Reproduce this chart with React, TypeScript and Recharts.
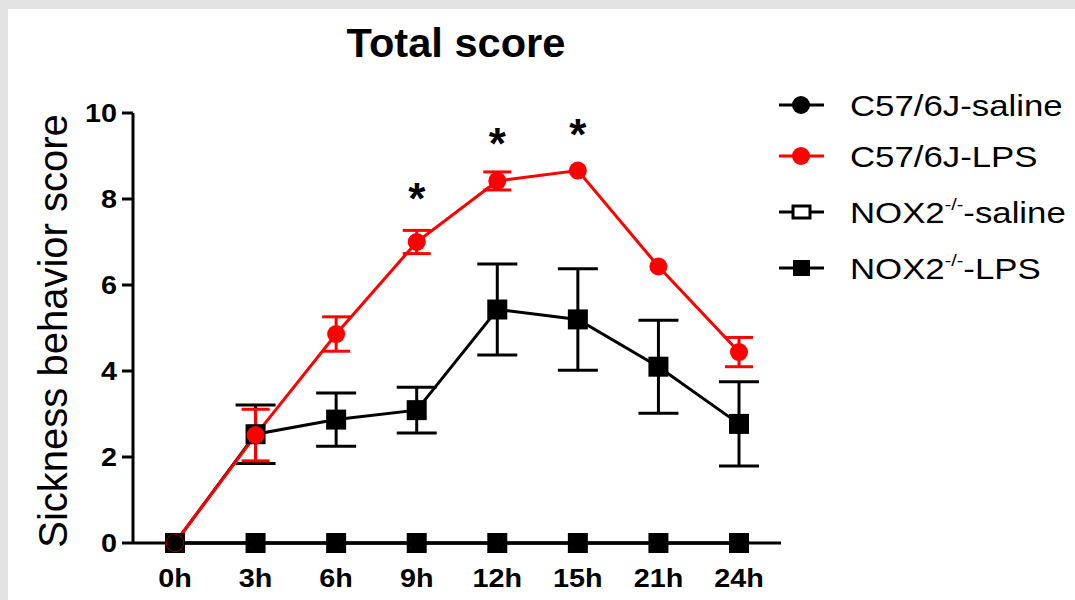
import React from 'react';
import { ComposedChart, Line, XAxis, YAxis, ErrorBar } from 'recharts';

const times = ['0h', '3h', '6h', '9h', '12h', '15h', '21h', '24h'];
const c57Saline = [0, 0, 0, 0, 0, 0, 0, 0];
const c57Lps = [0, 2.51, 4.86, 7.0, 8.42, 8.66, 6.43, 4.44];
const c57LpsErr = [0, 0.6, 0.4, 0.27, 0.21, 0, 0, 0.34];
const nox2Saline = [0, 0, 0, 0, 0, 0, 0, 0];
const nox2Lps = [0, 2.53, 2.87, 3.09, 5.43, 5.2, 4.1, 2.77];
const nox2LpsErr = [0, 0.68, 0.62, 0.53, 1.06, 1.18, 1.08, 0.98];
const significance = [null, null, null, 8.16, 9.44, 9.65, null, null];
const yTicks = [0, 2, 4, 6, 8, 10];
const legendLabels = ['C57/6J-saline', 'C57/6J-LPS', 'NOX2^-/-^-saline', 'NOX2^-/-^-LPS'];
const legendKinds = ['circle', 'redCircle', 'openSquare', 'square'];
const title = 'Total score';
const yLabel = 'Sickness behavior score';

const data = times.map((t, i) => ({
  time: t,
  c57Saline: c57Saline[i],
  c57Lps: c57Lps[i],
  c57LpsErr: c57LpsErr[i],
  nox2Saline: nox2Saline[i],
  nox2Lps: nox2Lps[i],
  nox2LpsErr: nox2LpsErr[i],
  sig: significance[i],
}));

const FONT = '"Liberation Sans", Arial, Helvetica, sans-serif';
const SX = 1.15;

const YTick = (props: any) => {
  const { x, y, payload } = props;
  return (
    <text
      transform={`translate(${x},${y}) scale(${SX},1)`}
      textAnchor="end"
      dy={9}
      fontFamily={FONT}
      fontWeight="bold"
      fontSize={25}
      fill="#000"
    >
      {payload.value}
    </text>
  );
};

const XTick = (props: any) => {
  const { x, y, payload } = props;
  return (
    <text
      transform={`translate(${x},${y}) scale(${SX},1)`}
      textAnchor="middle"
      dy={34}
      fontFamily={FONT}
      fontWeight="bold"
      fontSize={25}
      fill="#000"
    >
      {payload.value}
    </text>
  );
};

const filledSquareDot = (props: any) => {
  const { cx, cy, index } = props;
  if (cx == null || cy == null) return <g key={`fs-${index}`} />;
  return <rect key={`fs-${index}`} x={cx - 10} y={cy - 10} width={20} height={20} fill="#000" />;
};

const openSquareDot = (props: any) => {
  const { cx, cy, index } = props;
  if (cx == null || cy == null) return <g key={`os-${index}`} />;
  return (
    <rect
      key={`os-${index}`}
      x={cx - 8}
      y={cy - 8}
      width={16}
      height={16}
      fill="#fff"
      stroke="#000"
      strokeWidth={4}
    />
  );
};

const circleDot = (fill: string, r: number) => (props: any) => {
  const { cx, cy, index } = props;
  if (cx == null || cy == null) return <g key={`c-${index}`} />;
  return <circle key={`c-${index}`} cx={cx} cy={cy} r={r} fill={fill} />;
};

const starDot = (props: any) => {
  const { cx, cy, index, value } = props;
  if (value == null || cx == null || cy == null) return <g key={`st-${index}`} />;
  return (
    <text
      key={`st-${index}`}
      x={cx}
      y={cy + 22}
      textAnchor="middle"
      fontFamily={FONT}
      fontWeight="bold"
      fontSize={44}
      fill="#000"
    >
      *
    </text>
  );
};

const LegendMarker = ({ kind, y }: { kind: string; y: number }) => {
  const color = kind === 'redCircle' ? '#ff0000' : '#000';
  return (
    <g>
      <line x1={779} x2={824} y1={y} y2={y} stroke={color} strokeWidth={3} />
      {kind === 'circle' || kind === 'redCircle' ? (
        <circle cx={801} cy={y} r={9} fill={color} />
      ) : null}
      {kind === 'openSquare' ? (
        <rect x={793} y={y - 6} width={17} height={12} fill="#fff" stroke="#000" strokeWidth={3} />
      ) : null}
      {kind === 'square' ? <rect x={793} y={y - 8} width={17} height={16} fill="#000" /> : null}
    </g>
  );
};

const LegendText = ({ label, y }: { label: string; y: number }) => {
  const parts = label.split('^');
  return (
    <text
      transform={`translate(850,${y + 11}) scale(1.16,1)`}
      fontFamily={FONT}
      fontSize={30}
      fill="#000"
    >
      {parts.length === 1 ? (
        parts[0]
      ) : (
        <>
          <tspan>{parts[0]}</tspan>
          <tspan fontSize={17} dy={-13}>
            {parts[1]}
          </tspan>
          <tspan fontSize={30} dy={13}>
            {parts[2]}
          </tspan>
        </>
      )}
    </text>
  );
};

const legendRows = [105, 156, 212, 268];

export default function App() {
  return (
    <div style={{ position: 'absolute', left: 0, top: 0, width: 1075, height: 600, background: '#e3e3e3' }}>
      <div style={{ position: 'absolute', left: 8, top: 9, right: 0, bottom: 0, background: '#fff' }} />
      <div style={{ position: 'absolute', left: 0, top: 0 }}>
        <ComposedChart
          width={1075}
          height={600}
          data={data}
          margin={{ top: 113, right: 294, bottom: 0, left: 0 }}
        >
          <XAxis
            dataKey="time"
            height={57}
            padding={{ left: 42, right: 42 }}
            axisLine={{ stroke: '#000', strokeWidth: 3 }}
            tickLine={false}
            tickSize={10}
            tickMargin={0}
            tick={<XTick />}
            interval={0}
          />
          <YAxis
            width={133}
            domain={[0, 10]}
            ticks={yTicks}
            axisLine={{ stroke: '#000', strokeWidth: 3 }}
            tickLine={{ stroke: '#000', strokeWidth: 3 }}
            tickSize={11}
            tickMargin={5}
            tick={<YTick />}
            interval={0}
          />
          <Line
            dataKey="nox2Saline"
            stroke="#000"
            strokeWidth={3}
            dot={openSquareDot}
            isAnimationActive={false}
          />
          <Line
            dataKey="nox2Lps"
            stroke="#000"
            strokeWidth={3}
            dot={filledSquareDot}
            isAnimationActive={false}
          >
            <ErrorBar dataKey="nox2LpsErr" width={20} stroke="#000" strokeWidth={3} direction="y" />
          </Line>
          <Line
            dataKey="c57Lps"
            stroke="#ff0000"
            strokeWidth={3}
            dot={circleDot('#ff0000', 9)}
            isAnimationActive={false}
          >
            <ErrorBar dataKey="c57LpsErr" width={14} stroke="#ff0000" strokeWidth={3} direction="y" />
          </Line>
          <Line
            dataKey="c57Saline"
            stroke="#000"
            strokeWidth={3}
            dot={circleDot('#000', 8.5)}
            isAnimationActive={false}
          />
          <Line
            dataKey="sig"
            stroke="none"
            dot={starDot}
            activeDot={false}
            connectNulls={false}
            isAnimationActive={false}
          />
        </ComposedChart>
      </div>
      <svg
        width={1075}
        height={600}
        style={{ position: 'absolute', left: 0, top: 0, pointerEvents: 'none' }}
      >
        <text
          transform={`translate(456,57) scale(1.04,1)`}
          textAnchor="middle"
          fontFamily={FONT}
          fontWeight="bold"
          fontSize={40}
          fill="#000"
        >
          {title}
        </text>
        <text
          transform={`translate(67,331) rotate(-90)`}
          textAnchor="middle"
          fontFamily={FONT}
          fontSize={40}
          fill="#000"
        >
          {yLabel}
        </text>
        {legendLabels.map((label, i) => (
          <g key={label}>
            <LegendMarker kind={legendKinds[i]} y={legendRows[i]} />
            <LegendText label={label} y={legendRows[i]} />
          </g>
        ))}
      </svg>
    </div>
  );
}
